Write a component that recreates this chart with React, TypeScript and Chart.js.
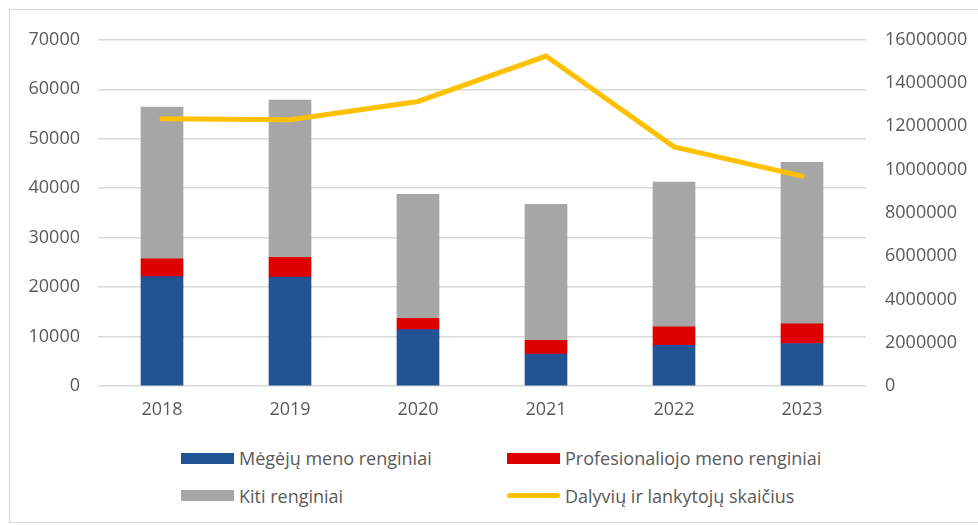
import React, { useEffect, useRef } from "react";
import { Chart, registerables } from "chart.js";

Chart.register(...registerables);

const categories = ["2018", "2019", "2020", "2021", "2022", "2023"];
const megeju = [22100, 22000, 11400, 6450, 8200, 8600];
const profesionaliojo = [3600, 4000, 2300, 2800, 3750, 3950];
const kiti = [30700, 31800, 25050, 27500, 29300, 32650];
const dalyviai = [12350000, 12310000, 13150000, 15250000, 11050000, 9700000];

const seriesNames = [
  "Mėgėjų meno renginiai",
  "Profesionaliojo meno renginiai",
  "Kiti renginiai",
  "Dalyvių ir lankytojų skaičius",
];
const colors = ["#215294", "#DF0000", "#A6A6A6", "#FFC000"];

const FONT = "'Open Sans', Lato, sans-serif";
const TEXT = "#595959";

export default function App() {
  const ref = useRef<HTMLCanvasElement | null>(null);

  useEffect(() => {
    if (!ref.current) return;
    const plain = (v: any) => String(v);
    const chart = new Chart(ref.current, {
      type: "bar",
      data: {
        labels: categories,
        datasets: [
          {
            type: "line",
            label: seriesNames[3],
            data: dalyviai,
            borderColor: colors[3],
            backgroundColor: colors[3],
            borderWidth: 5,
            pointRadius: 0,
            borderCapStyle: "round",
            yAxisID: "y1",
            order: 0,
            tension: 0,
          } as any,
          {
            type: "bar",
            label: seriesNames[0],
            data: megeju,
            backgroundColor: colors[0],
            yAxisID: "y",
            stack: "s",
            order: 1,
            barThickness: 42,
          },
          {
            type: "bar",
            label: seriesNames[1],
            data: profesionaliojo,
            backgroundColor: colors[1],
            yAxisID: "y",
            stack: "s",
            order: 1,
            barThickness: 42,
          },
          {
            type: "bar",
            label: seriesNames[2],
            data: kiti,
            backgroundColor: colors[2],
            yAxisID: "y",
            stack: "s",
            order: 1,
            barThickness: 42,
          },
        ],
      },
      options: {
        animation: false,
        responsive: false,
        maintainAspectRatio: false,
        layout: { padding: { top: 28, left: 0, right: 0, bottom: 0 } },
        plugins: {
          legend: { display: false },
          tooltip: { enabled: false },
        },
        scales: {
          x: {
            stacked: true,
            grid: { display: false, drawTicks: false },
            border: { display: false },
            ticks: {
              color: TEXT,
              font: { family: FONT, size: 18 },
              padding: 13,
            },
            afterFit: (s: any) => {
              s.height = 44;
            },
          },
          y: {
            stacked: true,
            position: "left",
            min: 0,
            max: 70000,
            grid: { color: "#D9D9D9", lineWidth: 1.5, drawTicks: false },
            border: { display: false },
            ticks: {
              stepSize: 10000,
              color: TEXT,
              font: { family: FONT, size: 18 },
              padding: 18,
              callback: plain,
            },
            afterFit: (s: any) => {
              s.width = 88;
            },
          },
          y1: {
            position: "right",
            min: 0,
            max: 16000000,
            grid: { display: false, drawTicks: false },
            border: { display: false },
            ticks: {
              stepSize: 2000000,
              color: TEXT,
              font: { family: FONT, size: 18 },
              padding: 19,
              callback: plain,
            },
            afterFit: (s: any) => {
              s.width = 112;
            },
          },
        },
      },
    });
    return () => chart.destroy();
  }, []);

  const legendItems = [
    { name: seriesNames[0], color: colors[0], x: 181, y: 458, line: false },
    { name: seriesNames[1], color: colors[1], x: 507, y: 458, line: false },
    { name: seriesNames[2], color: colors[2], x: 181, y: 495.5, line: false },
    { name: seriesNames[3], color: colors[3], x: 507, y: 495.5, line: true },
  ];

  return (
    <div
      style={{
        position: "absolute",
        left: 9,
        top: 9,
        width: 975,
        height: 512,
        border: "1px solid #D9D9D9",
        borderRight: "none",
        background: "#fff",
      }}
    >
      <canvas
        ref={ref}
        width={968}
        height={420}
        style={{ position: "absolute", left: 0, top: 0, width: 968, height: 420 }}
      />
      {legendItems.map((it) => (
        <div
          key={it.name}
          style={{
            position: "absolute",
            left: it.x - 10,
            top: it.y - 10 - 12,
            height: 24,
            display: "flex",
            alignItems: "center",
            fontFamily: FONT,
            fontSize: 18,
            color: TEXT,
            whiteSpace: "nowrap",
          }}
        >
          <span
            style={{
              display: "inline-block",
              width: 53,
              height: it.line ? 5 : 11,
              borderRadius: it.line ? 3 : 0,
              background: it.color,
              marginRight: 5,
            }}
          />
          <span>{it.name}</span>
        </div>
      ))}
    </div>
  );
}
